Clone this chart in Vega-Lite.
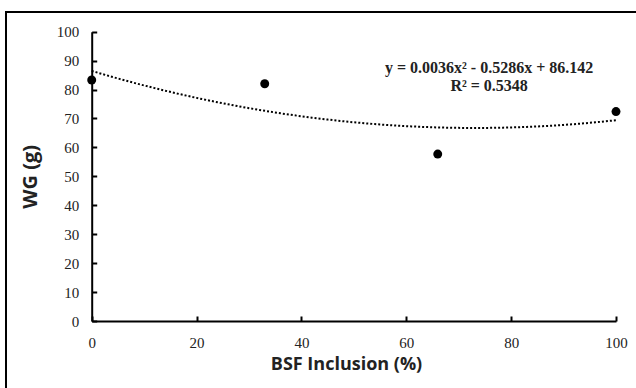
{
  "$schema": "https://vega.github.io/schema/vega-lite/v6.json",
  "width": 640,
  "height": 390,
  "autosize": {"type": "none"},
  "padding": {"left": 6, "top": 12, "right": 0, "bottom": 0},
  "background": "white",
  "config": {
    "view": {"stroke": "black", "strokeWidth": 2},
    "axis": {
      "grid": false,
      "domainColor": "black",
      "domainWidth": 2,
      "tickColor": "black",
      "tickWidth": 2,
      "tickSize": -5,
      "labelFont": "Liberation Serif",
      "labelFontSize": 15,
      "labelColor": "#222",
      "labelOverlap": false,
      "labelFlush": false,
      "titleFont": "Open Sans",
      "titleFontWeight": "bold",
      "titleColor": "#222"
    }
  },
  "datasets": {
    "points": [
      {"bsf": 0, "wg": 83.3},
      {"bsf": 33, "wg": 82.0},
      {"bsf": 66, "wg": 57.7},
      {"bsf": 100, "wg": 72.4}
    ],
    "labels": [
      {"bsf": 75.8, "wg": 87.4, "label": "y = 0.0036x² - 0.5286x + 86.142"},
      {"bsf": 75.8, "wg": 81.3, "label": "R² = 0.5348"}
    ]
  },
  "encoding": {
    "x": {
      "field": "bsf",
      "type": "quantitative",
      "scale": {"domain": [0, 100], "range": [85.7, 610], "nice": false},
      "axis": {
        "title": "BSF Inclusion (%)",
        "titleFontSize": 18,
        "values": [0, 20, 40, 60, 80, 100],
        "labelOverlap": false,
        "offset": -81,
        "labelPadding": 19,
        "titlePadding": 5,
        "titleX": 340
      }
    },
    "y": {
      "field": "wg",
      "type": "quantitative",
      "scale": {"domain": [0, 100], "range": [309, 19.7], "nice": false},
      "axis": {
        "title": "WG (g)",
        "titleFontSize": 20,
        "values": [0, 10, 20, 30, 40, 50, 60, 70, 80, 90, 100],
        "tickCount": 11,
        "labelOverlap": false,
        "offset": -85.7,
        "labelPadding": 18,
        "titlePadding": 16
      }
    }
  },
  "layer": [
    {
      "data": {"name": "points"},
      "transform": [
        {"regression": "wg", "on": "bsf", "method": "poly", "order": 2, "extent": [0, 100]}
      ],
      "mark": {"type": "line", "color": "black", "strokeDash": [2, 2], "strokeWidth": 2}
    },
    {
      "data": {"name": "points"},
      "mark": {"type": "point", "filled": true, "color": "black", "size": 80, "opacity": 1}
    },
    {
      "data": {"name": "labels"},
      "mark": {"type": "text", "font": "Liberation Serif", "fontWeight": "bold", "fontSize": 16, "color": "#222", "align": "center", "baseline": "middle"},
      "encoding": {
        "text": {"field": "label"}
      }
    }
  ]
}
